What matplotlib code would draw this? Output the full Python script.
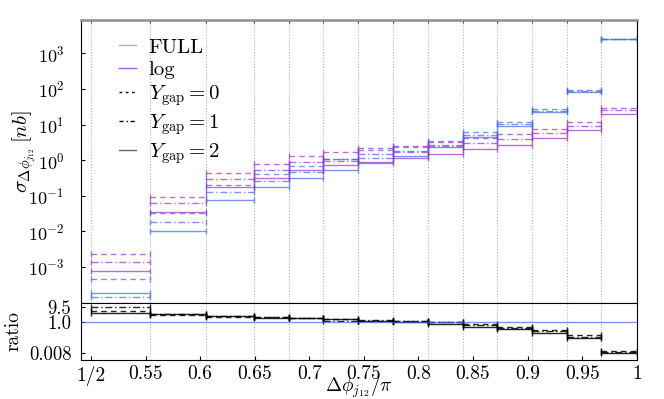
import numpy as np
import matplotlib
matplotlib.use("Agg")
from matplotlib import pyplot as plt

plt.rcParams['font.family'] = 'serif'
plt.rcParams['font.serif'] = ['cmr10']
plt.rcParams['mathtext.fontset'] = 'cm'
plt.rcParams['axes.formatter.use_mathtext'] = True
plt.rcParams['axes.unicode_minus'] = False

# bin edges in units of pi
edges = [0.5, 0.554, 0.605, 0.6496, 0.6814, 0.7129, 0.7449, 0.777, 0.8088,
         0.8406, 0.8723, 0.904, 0.9358, 0.9676, 1.0]

# cross sections [nb], FULL
full_y0 = [4.67e-4, 0.0333, 0.200, 0.399, 0.697, 1.05, 1.92, 2.41, 3.44, 6.08, 11.4, 26.9, 93.1, 2500]
full_y1 = [1.45e-4, 0.0182, 0.125, 0.259, 0.479, 0.944, 1.12, 1.72, 2.74, 5.14, 10.1, 24.7, 88.9, 2500]
full_y2 = [1.88e-4, 0.0100, 0.0773, 0.172, 0.321, 0.517, 0.819, 1.30, 2.29, 4.37, 8.90, 22.4, 81.8, 2500]
# cross sections [nb], log
log_y0 = [2.30e-3, 0.0901, 0.443, 0.776, 1.28, 1.67, 2.14, 2.57, 3.33, 4.07, 5.30, 7.57, 12.1, 29.6]
log_y1 = [1.38e-3, 0.0612, 0.289, 0.527, 0.867, 1.11, 1.46, 1.82, 2.57, 2.96, 3.91, 5.66, 9.25, 25.2]
log_y2 = [7.52e-4, 0.0348, 0.179, 0.314, 0.537, 0.743, 0.914, 1.18, 1.51, 2.01, 2.74, 4.12, 7.01, 20.0]

xticks = [0.5, 0.55, 0.6, 0.65, 0.7, 0.75, 0.8, 0.85, 0.9, 0.95, 1.0]
xticklabels = ['1/2', '0.55', '0.6', '0.65', '0.7', '0.75', '0.8', '0.85', '0.9', '0.95', '1']
rticks = [0.008, 1.0, 9.5]
rticklabels = ['0.008', '1.0', '9.5']

dashes = [(0, (4, 3)), (0, (5, 2, 1, 2)), '-']
blue = '#4169E1'
purple = '#9932CC'

edges = np.array(edges)
centers = (edges[1:] + edges[:-1]) / 2
half = (edges[1:] - edges[:-1]) / 2

fig = plt.figure(figsize=(6.64, 3.99), dpi=100)
ax = fig.add_axes([0.122, 0.2406, 0.837, 0.7094])
rax = fig.add_axes([0.122, 0.0977, 0.837, 0.1429])


def steps(a, vals, color, ls, alpha):
    eb = a.errorbar(centers, vals, xerr=half, fmt='none', ecolor=color,
                    elinewidth=1.0, capsize=2.2, capthick=1.0, alpha=alpha)
    eb[2][0].set_linestyle(ls)


fulls = [full_y0, full_y1, full_y2]
logs = [log_y0, log_y1, log_y2]
for i in range(3):
    steps(ax, fulls[i], blue, dashes[i], 0.7)
    steps(ax, logs[i], purple, dashes[i], 0.7)
    ratio = np.array(logs[i]) / np.array(fulls[i])
    steps(rax, ratio, 'black', dashes[i], 0.85)
rax.axhline(1.0, color=blue, lw=1.0, alpha=0.7)

# legend
ax.plot([], [], color=blue, lw=1.0, alpha=0.5, label='FULL')
ax.plot([], [], color=purple, lw=1.0, alpha=0.8, label='log')
ax.plot([], [], color='black', lw=1.0, ls=(0, (2, 2.5)), label=r'$Y_{\rm gap}=0$')
ax.plot([], [], color='black', lw=1.0, ls=(0, (3, 2, 1, 2)), label=r'$Y_{\rm gap}=1$')
ax.plot([], [], color='0.4', lw=1.0, ls='-', label=r'$Y_{\rm gap}=2$')
ax.legend(loc='upper left', bbox_to_anchor=(0.039, 0.995), frameon=False, fontsize=15,
          handlelength=0.8, handletextpad=0.6, labelspacing=0.2, borderpad=0.3)

ax.set_yscale('log')
ax.set_ylim(9.8e-5, 8600)
ax.set_xlim(0.4908, 1.0)
ax.set_yticks([1e-3, 1e-2, 1e-1, 1e0, 1e1, 1e2, 1e3])
ax.minorticks_off()
ax.set_xticks(edges)
ax.tick_params(axis='x', which='major', direction='in', length=2, top=True, bottom=False,
               labelbottom=False, color='0.3')
ax.tick_params(axis='y', which='major', direction='in', length=3, labelsize=13, pad=12)
ax.grid(axis='x', ls=':', color='0.7', lw=0.8)
ax.spines['top'].set_color('0.55')
ax.spines['top'].set_linewidth(1.8)
ax.set_ylabel(r'$\sigma_{\Delta\phi_{j_{12}}}\,[nb]$', fontsize=15)
ax.yaxis.set_label_coords(-0.077, 0.534)

rax.set_yscale('log')
rax.set_ylim(0.0029, 17.6)
rax.set_xlim(0.4908, 1.0)
rax.set_yticks(rticks)
rax.set_yticklabels(rticklabels)
rax.minorticks_off()
rax.set_xticks(edges, minor=True)
rax.grid(axis='x', which='minor', ls=':', color='0.7', lw=0.8)
rax.tick_params(axis='x', which='minor', length=0)
rax.set_xticks(xticks)
rax.set_xticklabels(xticklabels)
rax.tick_params(axis='both', which='major', direction='in', length=3, labelsize=14)
rax.tick_params(axis='y', pad=7, labelsize=13.5)
rax.tick_params(axis='x', pad=4)
rax.set_xlabel(r'$\Delta\phi_{j_{12}}/\pi$', fontsize=14, labelpad=-9)
rax.set_ylabel('ratio', fontsize=14)
rax.yaxis.set_label_coords(-0.106, 0.5)

fig.savefig('out.png', dpi=100)
